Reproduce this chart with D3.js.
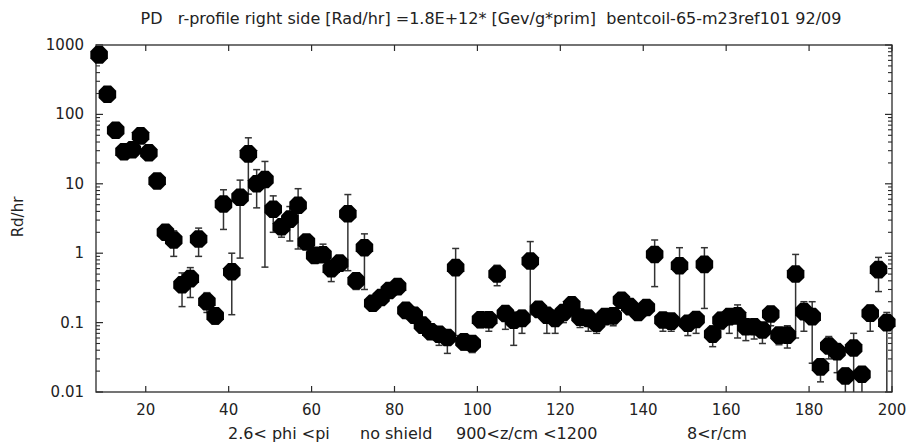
<!DOCTYPE html>
<html><head><meta charset="utf-8">
<script src="https://cdn.jsdelivr.net/npm/d3@7"></script>
<style>body{margin:0;background:#fff}svg{display:block}text{font-family:"DejaVu Sans",sans-serif;fill:#222}</style>
</head><body>
<svg id="c" width="912" height="445"></svg>
<script>
const titleText = "PD   r-profile right side [Rad/hr] =1.8E+12* [Gev/g*prim]  bentcoil-65-m23ref101 92/09";
const yLabel = "Rd/hr";
const xNotes = ["2.6< phi <pi", "no shield", "900<z/cm <1200", "8<r/cm"];
const xNotePos = [228, 360, 456, 687];
const xTicks = [20,40,60,80,100,120,140,160,180,200];
const yTicks = [0.01,0.1,1,10,100,1000];
const yTickLabels = ["0.01","0.1","1","10","100","1000"];

const xs = [8.75,10.75,12.75,14.75,16.75,18.75,20.75,22.75,24.75,26.75,28.75,30.75,32.75,34.75,36.75,38.75,40.75,42.75,44.75,46.75,
48.75,50.75,52.75,54.75,56.75,58.75,60.75,62.75,64.75,66.75,68.75,70.75,72.75,74.75,76.75,78.75,80.75,82.75,84.75,86.75,
88.75,90.75,92.75,94.75,96.75,98.75,100.75,102.75,104.75,106.75,108.75,110.75,112.75,114.75,116.75,118.75,120.75,122.75,124.75,126.75,
128.75,130.75,132.75,134.75,136.75,138.75,140.75,142.75,144.75,146.75,148.75,150.75,152.75,154.75,156.75,158.75,160.75,162.75,164.75,166.75,
168.75,170.75,172.75,174.75,176.75,178.75,180.75,182.75,184.75,186.75,188.75,190.75,192.75,194.75,196.75,198.75];
const vals = [720,195,59,29,31,49,28,11,2.0,1.55,0.35,0.43,1.6,0.2,0.125,5.1,0.54,6.4,27,10,
11.5,4.3,2.4,3.1,4.9,1.45,0.93,0.95,0.6,0.72,3.7,0.4,1.2,0.19,0.23,0.29,0.33,0.15,0.128,0.092,
0.074,0.068,0.061,0.62,0.053,0.05,0.11,0.11,0.5,0.135,0.108,0.115,0.77,0.155,0.128,0.115,0.14,0.18,0.12,0.115,
0.098,0.122,0.125,0.21,0.17,0.14,0.165,0.96,0.109,0.105,0.66,0.098,0.111,0.69,0.068,0.108,0.122,0.125,0.087,0.087,
0.078,0.133,0.066,0.066,0.5,0.144,0.122,0.023,0.046,0.038,0.017,0.043,0.018,0.136,0.58,0.1];
const errLo = [null,null,null,null,null,null,null,null,null,0.9,0.17,0.23,0.9,0.14,0.095,2.2,0.13,0.85,7.1,4.5,
0.63,2.0,1.7,1.5,1.15,null,null,null,0.39,null,0.56,0.3,0.3,null,null,null,0.28,null,null,null,
null,0.047,0.036,0.065,0.04,0.037,0.085,0.075,0.34,0.08,0.047,0.07,0.13,0.12,0.07,0.07,0.1,0.13,0.085,0.075,
0.07,null,0.09,null,null,null,null,0.33,0.075,0.075,0.1,0.065,0.07,0.16,0.045,0.08,0.07,0.06,0.055,0.058,
0.05,0.09,0.048,0.043,0.06,0.075,0.026,0.014,0.03,0.019,0.01,0.01,0.01,0.075,0.28,0.01];
const errHi = [null,null,null,null,null,null,null,null,null,2.1,0.52,0.62,2.3,0.27,0.125,8.2,1.0,11.3,46,16,
21,6.7,3.0,4.7,8.5,null,null,1.35,0.75,null,7.0,0.4,1.9,null,null,null,0.33,null,null,null,
null,0.068,0.061,1.17,0.053,0.064,0.14,0.14,0.67,0.17,0.14,0.15,1.47,0.19,0.16,0.14,0.14,0.22,0.15,0.15,
0.12,null,0.125,null,null,null,null,1.55,0.13,0.105,1.2,0.125,0.14,1.2,0.09,0.14,0.155,0.18,0.1,0.11,
0.09,0.17,0.08,0.09,0.96,0.2,0.2,0.03,0.063,0.05,0.022,0.07,0.023,0.18,0.87,0.14];

const L=96, R=892, T=45, B=392;
const svg = d3.select("#c");
const x = d3.scaleLinear().domain([8,200]).range([L,R]);
const y = d3.scaleLog().domain([0.01,1000]).range([B,T]);
const axisCol = "#2a2a2a";

svg.append("rect").attr("x",L).attr("y",T).attr("width",R-L).attr("height",B-T)
  .attr("fill","none").attr("stroke",axisCol).attr("stroke-width",1.3);

const gx = svg.append("g");
xTicks.forEach(t=>{
  gx.append("line").attr("x1",x(t)).attr("x2",x(t)).attr("y1",B).attr("y2",B-6).attr("stroke",axisCol).attr("stroke-width",1.2);
  gx.append("line").attr("x1",x(t)).attr("x2",x(t)).attr("y1",T).attr("y2",T+6).attr("stroke",axisCol).attr("stroke-width",1.2);
  gx.append("text").attr("x",x(t)).attr("y",415).attr("text-anchor","middle").attr("font-size",15).text(t);
});
const minor = [];
for (let d=0.01; d<1000; d*=10) for (let m=2;m<=9;m++) minor.push(d*m);
const gy = svg.append("g");
minor.forEach(v=>{
  gy.append("line").attr("x1",L).attr("x2",L+4).attr("y1",y(v)).attr("y2",y(v)).attr("stroke",axisCol).attr("stroke-width",1.1);
  gy.append("line").attr("x1",R).attr("x2",R-4).attr("y1",y(v)).attr("y2",y(v)).attr("stroke",axisCol).attr("stroke-width",1.1);
});
yTicks.forEach((v,i)=>{
  gy.append("line").attr("x1",L).attr("x2",L+7).attr("y1",y(v)).attr("y2",y(v)).attr("stroke",axisCol).attr("stroke-width",1.2);
  gy.append("line").attr("x1",R).attr("x2",R-7).attr("y1",y(v)).attr("y2",y(v)).attr("stroke",axisCol).attr("stroke-width",1.2);
  gy.append("text").attr("x",84).attr("y",y(v)+5).attr("text-anchor","end").attr("font-size",15).text(yTickLabels[i]);
});

const ge = svg.append("g").attr("stroke","#333").attr("stroke-width",1.5);
xs.forEach((xv,i)=>{
  const lo = errLo[i], hi = errHi[i];
  if (lo==null && hi==null) return;
  const a = lo==null?vals[i]:lo, b = hi==null?vals[i]:hi;
  const px = x(xv);
  ge.append("line").attr("x1",px).attr("x2",px).attr("y1",y(a)).attr("y2",y(b));
  if (lo!=null && lo>0.0101) ge.append("line").attr("x1",px-3.5).attr("x2",px+3.5).attr("y1",y(a)).attr("y2",y(a));
  if (hi!=null) ge.append("line").attr("x1",px-3.5).attr("x2",px+3.5).attr("y1",y(b)).attr("y2",y(b));
});

const r = 9.5;
const oct = d3.range(8).map(k=>{const a=Math.PI/8+k*Math.PI/4;return [r*Math.cos(a),r*Math.sin(a)];});
const octPath = "M"+oct.map(p=>p[0].toFixed(2)+","+p[1].toFixed(2)).join("L")+"Z";
svg.append("g").selectAll("path").data(xs).join("path")
  .attr("d",octPath).attr("fill","#000")
  .attr("transform",(d,i)=>`translate(${x(d)},${y(vals[i])})`);

svg.append("text").attr("x",491).attr("y",24).attr("text-anchor","middle").attr("font-size",16)
  .attr("xml:space","preserve").style("white-space","pre").text(titleText);
svg.append("text").attr("transform","translate(23,217) rotate(-90)").attr("text-anchor","middle").attr("font-size",15).text(yLabel);
xNotes.forEach((t,i)=>svg.append("text").attr("x",xNotePos[i]).attr("y",439).attr("font-size",16).text(t));
</script>
</body></html>
